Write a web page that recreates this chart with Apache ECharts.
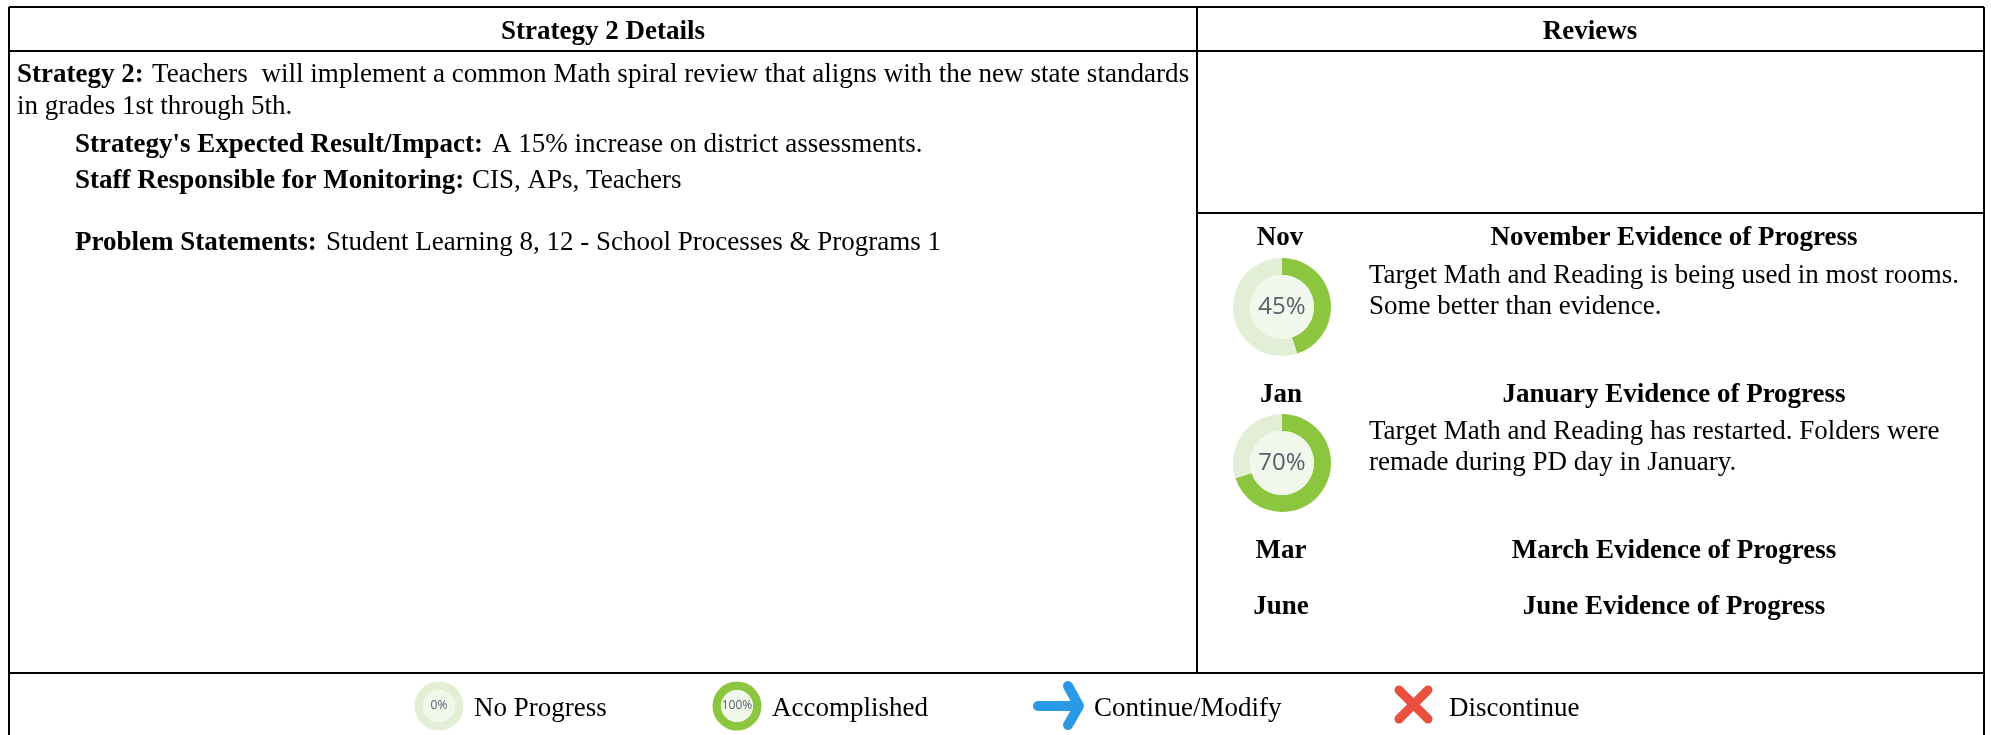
<html>

<head>
    <script src="https://cdn.jsdelivr.net/npm/echarts@6.0.0/dist/echarts.min.js"></script>

    <style>
        body {
            margin: 0;
            background: #fff;
        }
        #chart {
            width: 1991px;
            height: 735px;
        }
    </style>
</head>

<body>
    <div id="chart"></div>

    <script>
        const months = ['Nov', 'Jan'];
        const progress = [45, 70];
        const legendProgress = [0, 100];
        const legendNames = ['No Progress', 'Accomplished', 'Continue/Modify', 'Discontinue'];
        const headers = ['Strategy 2 Details', 'Reviews'];
        const otherMonths = ['Mar', 'June'];
        const evidenceTitles = ['November Evidence of Progress', 'January Evidence of Progress', 'March Evidence of Progress', 'June Evidence of Progress'];

        const chartDom = document.getElementById('chart');
        const myChart = echarts.init(chartDom);

        const FONT = '"Liberation Serif"';
        const GREEN = '#8cc63f';
        const PALE = '#e2efd6';
        const INNER = '#f1f7ea';

        const text = (x, y, str, opt) => ({
            type: 'text',
            x: x,
            y: y,
            style: Object.assign({
                text: str,
                fontFamily: FONT,
                fontSize: 27,
                fill: '#000',
                textVerticalAlign: 'middle'
            }, opt || {})
        });
        const bold = (x, y, str, opt) => text(x, y, str, Object.assign({ fontWeight: 'bold' }, opt || {}));
        const centered = (x, y, str) => bold(x, y, str, { textAlign: 'center' });

        const rule = (x1, y1, x2, y2, w) => ({
            type: 'line',
            shape: { x1: x1, y1: y1, x2: x2, y2: y2 },
            style: { stroke: '#000', lineWidth: w || 2 }
        });

        // ring gauge: one pie for the ring, one for the pale middle
        const ring = (cx, cy, r0, r, value, fontSize) => [
            {
                type: 'pie',
                silent: true,
                animation: false,
                center: [cx, cy],
                radius: [r0, r],
                startAngle: 90,
                clockwise: true,
                label: { show: false },
                labelLine: { show: false },
                data: [
                    { value: value, itemStyle: { color: GREEN } },
                    { value: 100 - value, itemStyle: { color: PALE } }
                ]
            },
            {
                type: 'pie',
                silent: true,
                animation: false,
                center: [cx, cy],
                radius: [0, r0],
                label: {
                    show: true,
                    position: 'center',
                    formatter: value + '%',
                    fontFamily: '"Open Sans"',
                    fontSize: fontSize,
                    color: '#56626b'
                },
                labelLine: { show: false },
                data: [{ value: 1, itemStyle: { color: INNER } }]
            }
        ];

        const elements = [
            rule(9, 7, 1984, 7),
            rule(9, 7, 9, 735),
            rule(1984, 7, 1984, 735),
            rule(9, 51, 1984, 51),
            rule(1197, 7, 1197, 673),
            rule(1197, 213, 1984, 213),
            rule(9, 673, 1984, 673),

            centered(603, 32, headers[0]),
            centered(1590, 32, headers[1]),

            bold(17, 75, 'Strategy 2:'),
            text(152, 75, 'Teachers  will implement a common Math spiral review that aligns with the new state standards', { fontSize: 27.1 }),
            text(17, 107, 'in grades 1st through 5th.'),
            bold(75, 145, "Strategy's Expected Result/Impact:"),
            text(492, 145, 'A 15% increase on district assessments.'),
            bold(75, 181, 'Staff Responsible for Monitoring:'),
            text(472, 181, 'CIS, APs, Teachers'),
            bold(75, 243, 'Problem Statements:'),
            text(326, 243, 'Student Learning 8, 12 - School Processes & Programs 1'),

            centered(1280, 238, months[0]),
            centered(1674, 238, evidenceTitles[0]),
            text(1369, 276, 'Target Math and Reading is being used in most rooms.'),
            text(1369, 307, 'Some better than evidence.'),

            centered(1281, 395, months[1]),
            centered(1674, 395, evidenceTitles[1]),
            text(1369, 432, 'Target Math and Reading has restarted. Folders were'),
            text(1369, 463, 'remade during PD day in January.'),

            centered(1281, 551, otherMonths[0]),
            centered(1674, 551, evidenceTitles[2]),
            centered(1281, 607, otherMonths[1]),
            centered(1674, 607, evidenceTitles[3]),

            text(474, 709, legendNames[0]),
            text(772, 709, legendNames[1]),
            text(1094, 709, legendNames[2]),
            text(1449, 709, legendNames[3]),

            // Continue/Modify arrow
            {
                type: 'polyline',
                shape: { points: [[1038, 706], [1078, 706]] },
                style: { stroke: '#2a9ae6', lineWidth: 10, lineCap: 'round', fill: null }
            },
            {
                type: 'polyline',
                shape: { points: [[1068, 686], [1079, 706], [1068, 725]] },
                style: { stroke: '#2a9ae6', lineWidth: 10, lineCap: 'round', lineJoin: 'round', fill: null }
            },
            // Discontinue cross
            {
                type: 'polyline',
                shape: { points: [[1399, 690], [1428, 719]] },
                style: { stroke: '#e9503e', lineWidth: 9, lineCap: 'round', fill: null }
            },
            {
                type: 'polyline',
                shape: { points: [[1428, 690], [1399, 719]] },
                style: { stroke: '#e9503e', lineWidth: 9, lineCap: 'round', fill: null }
            }
        ];

        const option = {
            animation: false,
            backgroundColor: '#fff',
            graphic: { elements: elements },
            series: [].concat(
                ring(1282, 307, 32, 49, progress[0], 24),
                ring(1282, 463, 32, 49, progress[1], 24),
                ring(439, 706, 16, 24.5, legendProgress[0], 12),
                ring(737, 706, 16, 24.5, legendProgress[1], 12)
            )
        };

        myChart.setOption(option);
    </script>
</body>

</html>
